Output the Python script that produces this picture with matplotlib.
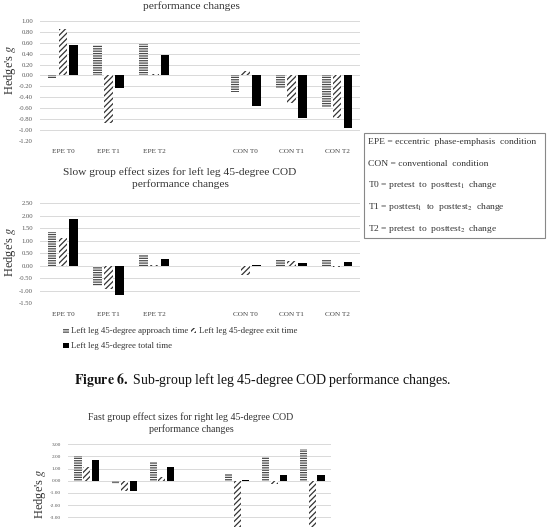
import numpy as np
import matplotlib
matplotlib.use('Agg')
import matplotlib.pyplot as plt
from matplotlib.patches import Patch, Rectangle

plt.rcParams['font.family'] = ['Liberation Serif', 'DejaVu Serif']
plt.rcParams['mathtext.fontset'] = 'stix'
plt.rcParams['hatch.linewidth'] = 0.9

# categories (blank slot separates the EPE and CON groups)
categories = ['EPE T0', 'EPE T1', 'EPE T2', '', 'CON T0', 'CON T1', 'CON T2']
nan = np.nan

# fast group, left leg (top chart)
fast_left_approach = [-0.05, 0.55, 0.58, nan, -0.30, -0.24, -0.58]
fast_left_exit = [0.85, -0.88, 0.03, nan, 0.08, -0.51, -0.79]
fast_left_total = [0.55, -0.23, 0.37, nan, -0.57, -0.79, -0.96]

# slow group, left leg (middle chart)
slow_left_approach = [1.34, -0.81, 0.42, nan, 0.00, 0.24, 0.24]
slow_left_exit = [1.12, -0.93, 0.02, nan, -0.36, 0.20, -0.05]
slow_left_total = [1.87, -1.17, 0.27, nan, 0.05, 0.13, 0.17]

# fast group, right leg (bottom chart, cut off)
fast_right_approach = [2.05, -0.27, 1.56, nan, 0.55, 1.92, 2.60]
fast_right_exit = [1.10, -0.88, 0.35, nan, -4.6, -0.30, -4.4]
fast_right_total = [1.73, -0.85, 1.15, nan, 0.10, 0.45, 0.45]

W, H = 549, 527
fig = plt.figure(figsize=(W / 100, H / 100), dpi=100)


def px_axes(x0, x1, y_top, y_bot):
    return fig.add_axes([x0 / W, 1 - y_bot / H, (x1 - x0) / W, (y_bot - y_top) / H])


def bar_chart(ax, approach, exit_, total, ylim, ticks, tick_fs, cat_fs, show_cats=True):
    x = np.arange(len(categories))
    w = 0.19
    off = 0.235
    ax.bar(x - off, approach, w, color='white', edgecolor='#4a4a4a',
           hatch='-------', linewidth=0, zorder=2)
    ax.bar(x, exit_, w, color='white', edgecolor='#333333',
           hatch='//////', linewidth=0, zorder=2)
    ax.bar(x + off, total, w, color='black', linewidth=0, zorder=2)
    ax.set_xlim(-0.5, len(categories) - 0.5)
    ax.set_ylim(*ylim)
    ax.set_yticks(ticks)
    ax.set_yticklabels(['%.2f' % t for t in ticks], fontsize=tick_fs, color='#555555')
    ax.set_xticks(x)
    if show_cats:
        ax.set_xticklabels(categories, fontsize=cat_fs, color='#444444')
    else:
        ax.set_xticklabels([])
    ax.tick_params(length=0)
    ax.tick_params(axis='y', pad=5)
    ax.tick_params(axis='x', pad=6)
    ax.grid(axis='y', color='#d9d9d9', linewidth=0.7, zorder=0)
    ax.set_axisbelow(True)
    for s in ax.spines.values():
        s.set_visible(False)


# top chart (first title line lies above the page crop)
ax1 = px_axes(40, 360, 21, 140.7)
bar_chart(ax1, fast_left_approach, fast_left_exit, fast_left_total,
          (-1.2, 1.0), np.arange(1.0, -1.21, -0.2), 4.8, 5.2)
fig.text(191 / W, 1 - 6 / H, 'performance changes',
         ha='center', va='center', fontsize=8.2, color='#333333')
fig.text(10 / W, 1 - 70 / H, "Hedge's $g$", rotation=90, ha='center', va='center',
         fontsize=9, color='#333333')

# middle chart
ax2 = px_axes(40, 360, 203.3, 303.3)
bar_chart(ax2, slow_left_approach, slow_left_exit, slow_left_total,
          (-1.5, 2.5), np.arange(2.5, -1.51, -0.5), 4.8, 5.2)
fig.text(180 / W, 1 - 178 / H,
         'Slow group effect sizes for left leg 45-degree COD\nperformance changes',
         ha='center', va='center', fontsize=8.2, linespacing=1.3, color='#333333')
fig.text(10 / W, 1 - 252 / H, "Hedge's $g$", rotation=90, ha='center', va='center',
         fontsize=9, color='#333333')

handles = [
    Patch(facecolor='white', edgecolor='#4a4a4a', hatch='-------', linewidth=0,
          label='Left leg 45-degree approach time'),
    Patch(facecolor='black', linewidth=0, label='Left leg 45-degree total time'),
    Patch(facecolor='white', edgecolor='#333333', hatch='//////', linewidth=0,
          label='Left leg 45-degree exit time'),
]
fig.legend(handles=handles, ncol=2, loc='upper left',
           bbox_to_anchor=(59 / W, 1 - 323 / H), frameon=False, fontsize=6.3,
           handlelength=0.6, handleheight=0.6, handletextpad=0.3,
           columnspacing=0.3, labelspacing=0.8, borderpad=0, labelcolor='#333333')

# definitions box
fig.patches.append(Rectangle((364 / W, 1 - 238 / H), (545 - 364) / W, (238 - 133) / H,
                             transform=fig.transFigure, facecolor='white',
                             edgecolor='#888888', linewidth=0.8))
box_lines = [
    'EPE = eccentric  phase-emphasis  condition',
    'CON = conventional  condition',
    'T0 = pretest  to  posttest$_1$  change',
    'T1 = posttest$_1$  to  posttest$_2$  change',
    'T2 = pretest  to  posttest$_2$  change',
]
for i, line in enumerate(box_lines):
    fig.text(368 / W, 1 - (142 + 21.7 * i) / H, line, ha='left', va='center',
             fontsize=6.8, color='#333333')

# caption
fig.text(263 / W, 1 - 380 / H, r'$\mathbf{Figure\ 6.}$ Sub-group left leg 45-degree COD performance changes.',
         ha='center', va='center', fontsize=10, color='#111111')

# bottom chart (cut off at the page edge)
ax3 = px_axes(68, 331, 444.3, 541.6)
bar_chart(ax3, fast_right_approach, fast_right_exit, fast_right_total,
          (-5, 3), np.arange(3, -3.1, -1), 3.8, 4.0, show_cats=False)
fig.text(191 / W, 1 - 423.5 / H,
         'Fast group effect sizes for right leg 45-degree COD\nperformance changes',
         ha='center', va='center', fontsize=7.1, linespacing=1.3, color='#333333')
fig.text(40 / W, 1 - 494 / H, "Hedge's $g$", rotation=90, ha='center', va='center',
         fontsize=9, color='#333333')

fig.savefig('out.png', dpi=100)
